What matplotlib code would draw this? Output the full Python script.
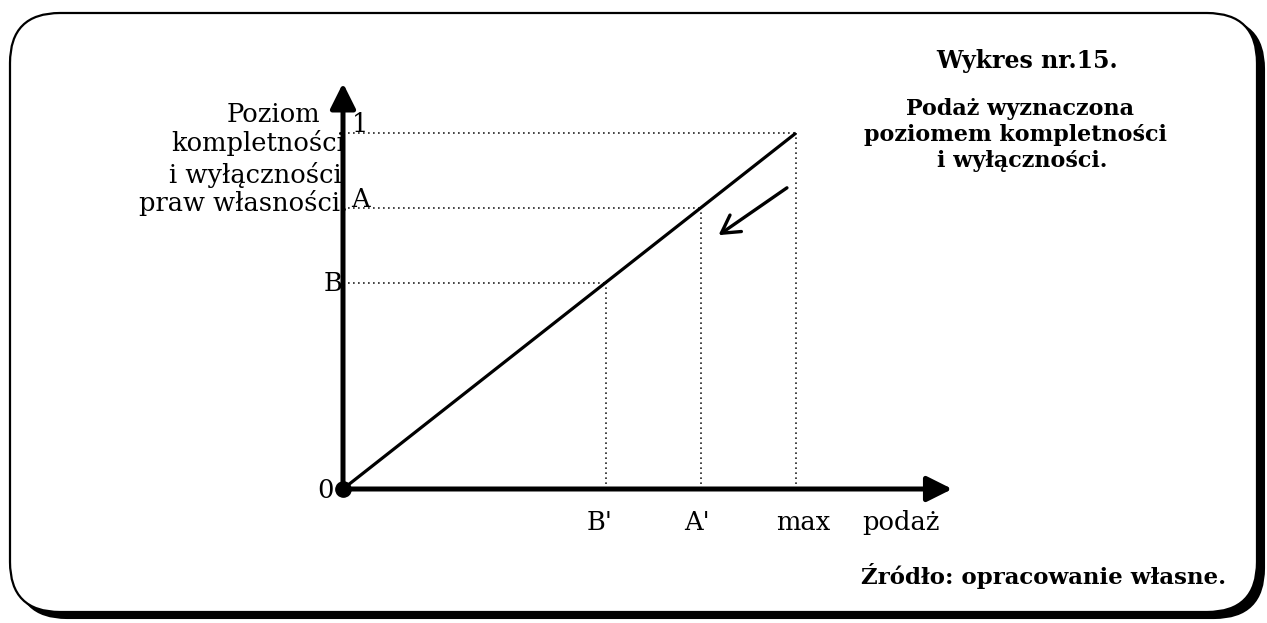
import matplotlib
matplotlib.use("Agg")
import matplotlib.pyplot as plt
from matplotlib.patches import FancyBboxPatch

# ---- data (diagram values) ----
supply_labels = ["B'", "A'", "max"]
supply_values = [0.58, 0.79, 1.0]
level_labels = ["B", "A", "1"]
level_values = [0.58, 0.79, 1.0]
line_x = [0.0, 1.0]
line_y = [0.0, 1.0]
x_axis_end = 1.345
y_axis_end = 1.14
shift_from = (0.98, 0.846)
shift_to = (0.829, 0.713)

W, H = 1267, 623
fig = plt.figure(figsize=(W / 100, H / 100), dpi=100)
ax = fig.add_axes([0, 0, 1, 1])
ax.set_zorder(2)
ox, oy, sx, sy = 343, 489, 453, 356
ax.set_xlim(-ox / sx, (W - ox) / sx)
ax.set_ylim((oy - H) / sy, oy / sy)
ax.axis("off")


def P(x, y):
    return ((x - ox) / sx, (oy - y) / sy)


# ---- frame with shadow ----
shadow = FancyBboxPatch((0.17, 0.05), 12.47, 5.99,
                        boxstyle="round,pad=0,rounding_size=0.5",
                        transform=fig.dpi_scale_trans, facecolor="black",
                        edgecolor="black", lw=1.5, zorder=0)
frame = FancyBboxPatch((0.10, 0.11), 12.47, 5.99,
                       boxstyle="round,pad=0,rounding_size=0.5",
                       transform=fig.dpi_scale_trans, facecolor="white",
                       edgecolor="black", lw=1.6, zorder=0.5)
fig.patches.extend([shadow, frame])

FONT = "DejaVu Serif"
dot_kw = dict(color="#222222", lw=1.2, linestyle=(0, (1, 2)), zorder=2)

# dotted guide lines
for xv, yv in zip(supply_values, level_values):
    ax.plot([0, xv], [yv, yv], **dot_kw)
    ax.plot([xv, xv], [0, yv], **dot_kw)

# main line
ax.plot(line_x, line_y, color="black", lw=2.3, solid_capstyle="butt", zorder=3)

# axes with arrows
arrow_kw = dict(arrowstyle="-|>,head_length=0.9,head_width=0.45", lw=3.6,
                color="black", shrinkA=0, shrinkB=0, mutation_scale=17)
ax.annotate("", xy=(x_axis_end, 0), xytext=(0, 0), arrowprops=arrow_kw, zorder=4)
ax.annotate("", xy=(0, y_axis_end), xytext=(0, 0), arrowprops=arrow_kw, zorder=4)
ax.plot([0], [0], "o", color="black", ms=11, zorder=5)

# shift arrow
ax.annotate("", xy=shift_to, xytext=shift_from,
            arrowprops=dict(arrowstyle="->,head_length=0.7,head_width=0.4",
                            lw=2.4, color="black", shrinkA=0, shrinkB=0,
                            mutation_scale=18), zorder=4)

# tick labels
fs = 18.5
ax.text(*P(352, 132), level_labels[2], fontsize=fs, family=FONT, ha="left", va="baseline")
ax.text(*P(351, 207), level_labels[1], fontsize=fs, family=FONT, ha="left", va="baseline")
ax.text(*P(343, 291), level_labels[0], fontsize=fs, family=FONT, ha="right", va="baseline")
ax.text(*P(326, 491), "0", fontsize=fs, family=FONT, ha="center", va="center")
ax.text(*P(600, 530), supply_labels[0], fontsize=fs, family=FONT, ha="center", va="baseline")
ax.text(*P(697, 530), supply_labels[1], fontsize=fs, family=FONT, ha="center", va="baseline")
ax.text(*P(803, 530), supply_labels[2], fontsize=fs, family=FONT, ha="center", va="baseline")
ax.text(*P(901, 530), "podaż", fontsize=fs, family=FONT, ha="center", va="baseline")

# y-axis title
ax.text(*P(320, 122), "Poziom", fontsize=fs, family=FONT, ha="right", va="baseline")
ax.text(*P(345, 151), "kompletności", fontsize=fs, family=FONT, ha="right", va="baseline")
ax.text(*P(342, 183), "i wyłączności", fontsize=fs, family=FONT, ha="right", va="baseline")
ax.text(*P(348, 211), "praw własności.", fontsize=fs, family=FONT, ha="right", va="baseline")

# right titles
ax.text(*P(1027, 68), "Wykres nr.15.", fontsize=17, family=FONT, fontweight="bold",
        ha="center", va="baseline")
ax.text(*P(1020, 115), "Podaż wyznaczona", fontsize=16, family=FONT, fontweight="bold",
        ha="center", va="baseline")
ax.text(*P(1015, 141), "poziomem kompletności", fontsize=16, family=FONT, fontweight="bold",
        ha="center", va="baseline")
ax.text(*P(1022, 167), "i wyłączności.", fontsize=16, family=FONT, fontweight="bold",
        ha="center", va="baseline")

ax.text(*P(1226, 584), "Źródło: opracowanie własne.", fontsize=16.5, family=FONT,
        fontweight="bold", ha="right", va="baseline")

fig.savefig("out.png", dpi=100)
